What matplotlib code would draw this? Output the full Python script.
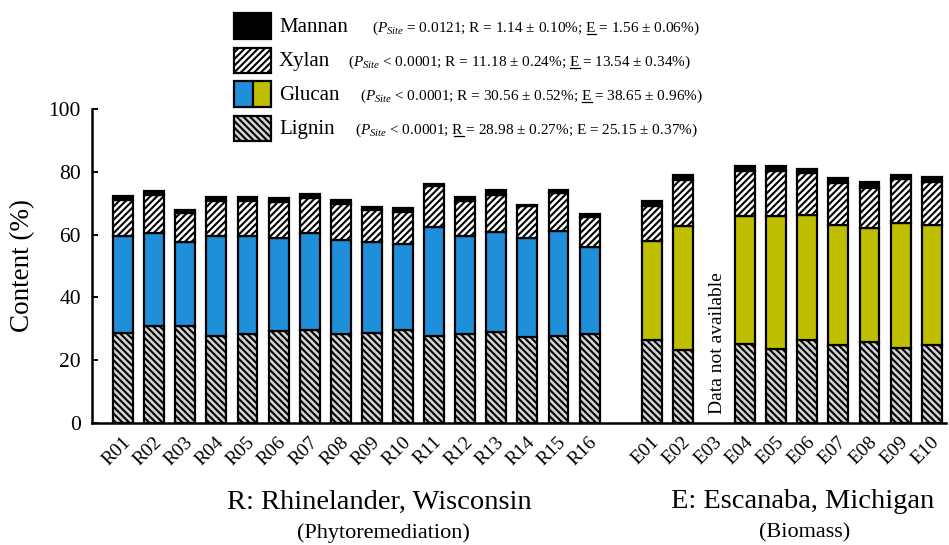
import numpy as np
import matplotlib
matplotlib.use("Agg")
import matplotlib.pyplot as plt
from matplotlib.patches import Rectangle
from matplotlib.lines import Line2D
from matplotlib.transforms import IdentityTransform, ScaledTranslation

# ---------------------------------------------------------------- data
sites_r = ["R01", "R02", "R03", "R04", "R05", "R06", "R07", "R08",
           "R09", "R10", "R11", "R12", "R13", "R14", "R15", "R16"]
sites_e = ["E01", "E02", "E03", "E04", "E05", "E06", "E07", "E08", "E09", "E10"]

lignin_r = [28.7, 30.8, 31.0, 27.8, 28.5, 29.2, 29.7, 28.5,
            28.7, 29.5, 27.6, 28.4, 29.0, 27.5, 27.7, 28.2]
glucan_r = [30.7, 29.8, 26.5, 31.6, 31.2, 29.8, 30.9, 29.9,
            29.0, 27.6, 34.7, 31.0, 31.7, 31.3, 33.4, 27.8]
xylan_r = [11.6, 12.0, 9.4, 11.2, 10.9, 11.5, 11.0, 11.3,
           10.1, 10.2, 13.1, 11.2, 11.9, 10.4, 12.1, 9.5]
mannan_r = [1.2, 1.2, 0.8, 1.3, 1.3, 1.2, 1.2, 1.2,
            0.9, 1.1, 0.8, 1.3, 1.6, 0.2, 1.1, 1.0]

# E03: no measurement
lignin_e = [26.3, 23.4, np.nan, 25.3, 23.5, 26.3, 24.8, 25.9, 24.0, 24.9]
glucan_e = [31.8, 39.4, np.nan, 40.6, 42.4, 39.8, 38.3, 36.2, 39.7, 38.2]
xylan_e = [11.1, 14.6, np.nan, 14.2, 14.2, 13.5, 13.2, 12.9, 13.9, 13.7]
mannan_e = [1.4, 1.5, np.nan, 1.6, 1.6, 1.4, 1.8, 1.6, 1.3, 1.7]

yticks = [0, 20, 40, 60, 80, 100]

legend_names = ["Mannan", "Xylan", "Glucan", "Lignin"]
legend_stats = [
    r"($P_{Site}$ = 0.0121; R = 1.14 ± 0.10%; E = 1.56 ± 0.06%)",
    r"($P_{Site}$ < 0.0001; R = 11.18 ± 0.24%; E = 13.54 ± 0.34%)",
    r"($P_{Site}$ < 0.0001; R = 30.56 ± 0.52%; E = 38.65 ± 0.96%)",
    r"($P_{Site}$ < 0.0001; R = 28.98 ± 0.27%; E = 25.15 ± 0.37%)",
]
# which site letter is underlined in each statistics line
legend_underline = ["E", "E", "E", "R"]

# ---------------------------------------------------------------- style
SERIF = "Liberation Serif"
plt.rcParams["font.family"] = [SERIF, "DejaVu Serif"]
plt.rcParams["mathtext.fontset"] = "custom"
plt.rcParams["mathtext.rm"] = SERIF
plt.rcParams["mathtext.it"] = SERIF + ":italic"
plt.rcParams["mathtext.bf"] = SERIF + ":bold"
plt.rcParams["hatch.linewidth"] = 1.5
plt.rcParams["hatch.color"] = "black"

BLUE = "#1f8fd9"
OLIVE = "#bfbf00"
GRAY = "#d4d4d4"
EDGE_LW = 1.6
HATCH_LIG = "\\\\\\\\\\"
HATCH_XYL = "/////"
BAR_W = 0.64

W, H, DPI = 949, 545, 100
fig = plt.figure(figsize=(W / DPI, H / DPI), dpi=DPI)


def fx(px):
    return px / W


def fy(py):
    return 1 - py / H


ax = fig.add_axes([fx(92), fy(423), (946 - 92) / W, (423 - 109) / H])

pos_r = np.arange(len(sites_r))
pos_e = np.arange(len(sites_e)) + len(sites_r) + 1


def draw_stack(pos, lig, glu, xyl, man, glu_color):
    lig, glu, xyl, man = (np.asarray(v, float) for v in (lig, glu, xyl, man))
    ok = ~np.isnan(lig)
    p = pos[ok]
    lig, glu, xyl, man = lig[ok], glu[ok], xyl[ok], man[ok]
    common = dict(width=BAR_W, edgecolor="black", linewidth=EDGE_LW, zorder=3)
    ax.bar(p, lig, color=GRAY, hatch=HATCH_LIG, **common)
    ax.bar(p, glu, bottom=lig, color=glu_color, **common)
    ax.bar(p, xyl, bottom=lig + glu, color="white", hatch=HATCH_XYL, **common)
    ax.bar(p, man, bottom=lig + glu + xyl, color="black", **common)


draw_stack(pos_r, lignin_r, glucan_r, xylan_r, mannan_r, BLUE)
draw_stack(pos_e, lignin_e, glucan_e, xylan_e, mannan_e, OLIVE)

# missing site note
missing = int(np.where(np.isnan(np.asarray(lignin_e, float)))[0][0])
ax.text(pos_e[missing] + 0.1, 3, "Data not available", rotation=90,
        ha="center", va="bottom", fontsize=14)

# axes
ax.set_xlim(-1.0, 26.46)
ax.set_ylim(0, 100)
ax.set_yticks(yticks)
ax.set_yticklabels([str(t) for t in yticks], fontsize=15.5)
ax.tick_params(axis="y", direction="in", length=4, width=1.4, pad=8)
ax.set_xticks(np.concatenate([pos_r, pos_e]))
ax.set_xticklabels(sites_r + sites_e, rotation=45, ha="right", va="center",
                   rotation_mode="anchor", fontsize=14)
ax.tick_params(axis="x", length=0, pad=12)
shift = ScaledTranslation(5 / DPI, 0, fig.dpi_scale_trans)
for lbl in ax.get_xticklabels():
    lbl.set_transform(lbl.get_transform() + shift)
for side in ("top", "right"):
    ax.spines[side].set_visible(False)
for side in ("left", "bottom"):
    ax.spines[side].set_linewidth(1.8)

fig.text(fx(23), fy(266), "Content (%)", rotation=90, ha="center",
         va="center", fontsize=19.5)

# group captions
fig.text(fx(379), fy(502), "R: Rhinelander, Wisconsin", ha="center",
         va="center", fontsize=20.5)
fig.text(fx(383), fy(533), "(Phytoremediation)", ha="center",
         va="center", fontsize=16)
fig.text(fx(803), fy(502), "E: Escanaba, Michigan", ha="center",
         va="center", fontsize=20.5)
fig.text(fx(805), fy(533), "(Biomass)", ha="center", va="center",
         fontsize=16)

# ---------------------------------------------------------------- legend
row_y = [26, 60, 94, 128]
stat_x = [372, 348, 360, 355]
px0, px1, ph = 234, 271, 25
renderer = fig.canvas.get_renderer()


def text_width(s, size):
    t = fig.text(0, 0, s, fontsize=size)
    w = t.get_window_extent(renderer).width
    t.remove()
    return w


for i, (name, stat, ul) in enumerate(zip(legend_names, legend_stats,
                                          legend_underline)):
    yc = row_y[i]
    y0 = fy(yc + ph / 2)
    if name == "Glucan":
        half = (px1 - px0) / 2
        fig.add_artist(Rectangle((fx(px0), y0), half / W, ph / H,
                                 facecolor=BLUE, edgecolor="black",
                                 linewidth=EDGE_LW, transform=fig.transFigure))
        fig.add_artist(Rectangle((fx(px0 + half), y0), half / W, ph / H,
                                 facecolor=OLIVE, edgecolor="black",
                                 linewidth=EDGE_LW, transform=fig.transFigure))
    else:
        style = {"Mannan": dict(facecolor="black"),
                 "Xylan": dict(facecolor="white", hatch=HATCH_XYL),
                 "Lignin": dict(facecolor=GRAY, hatch=HATCH_LIG)}[name]
        fig.add_artist(Rectangle((fx(px0), y0), (px1 - px0) / W, ph / H,
                                 edgecolor="black", linewidth=EDGE_LW,
                                 transform=fig.transFigure, **style))
    fig.text(fx(279), fy(yc + 6), name, ha="left", va="baseline", fontsize=15)

    size = 11
    base_y = yc + 6
    fig.text(fx(stat_x[i]), fy(base_y), stat, ha="left", va="baseline",
             fontsize=size)
    # underline the site letter that carries the larger mean
    idx = stat.index("; " + ul + " =") + 3
    w_pre = text_width(stat[:idx], size)
    w_let = text_width(ul, size)
    x_end = stat_x[i] + w_pre
    yl = H - (base_y + 2)
    fig.add_artist(Line2D([x_end - w_let, x_end], [yl, yl], color="black",
                          linewidth=0.9, transform=IdentityTransform()))

fig.savefig("out.png", dpi=DPI)
